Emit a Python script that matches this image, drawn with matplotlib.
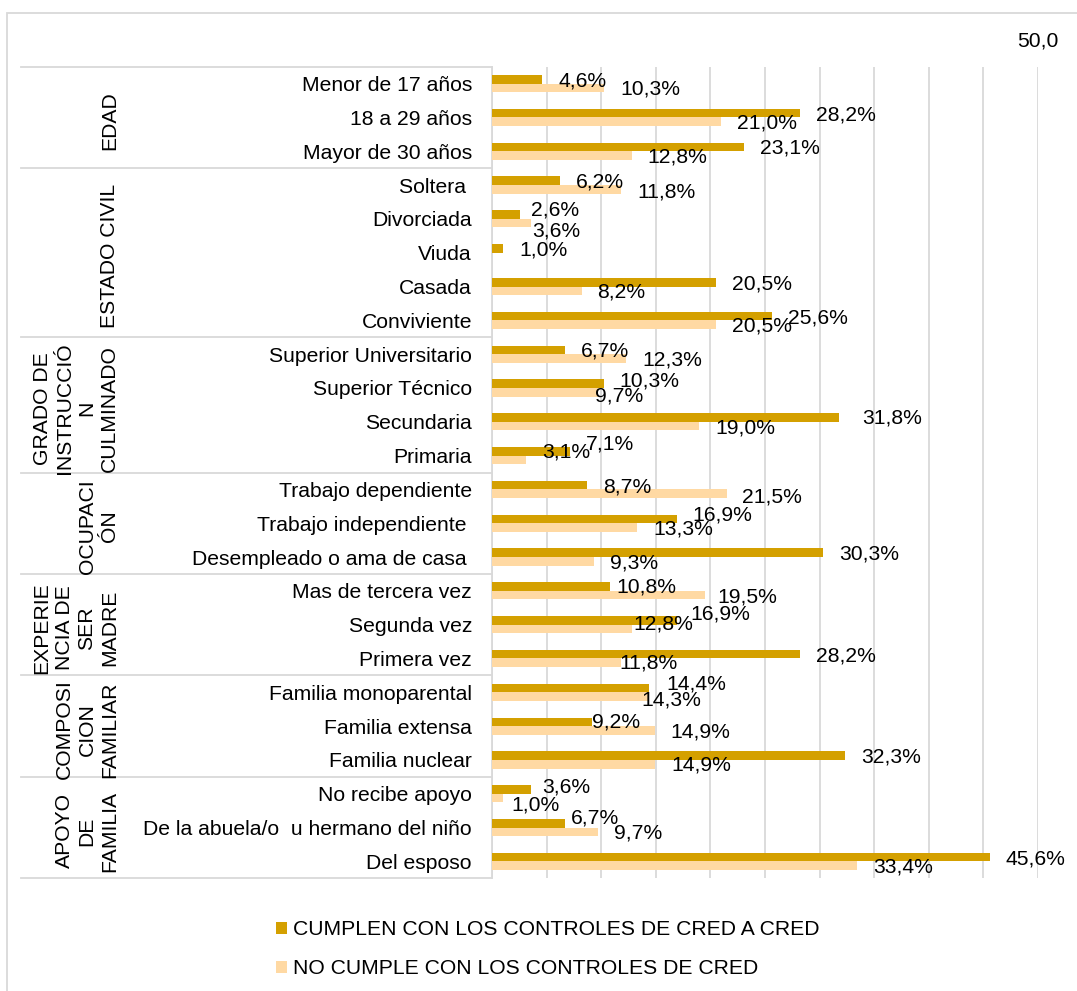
import matplotlib
matplotlib.use('Agg')
import matplotlib.pyplot as plt
import matplotlib.transforms as mtransforms
from matplotlib.patches import Rectangle, Patch
import numpy as np

plt.rcParams['font.family'] = ['Liberation Sans', 'DejaVu Sans']

# ---------------- data ----------------
groups = ["EDAD", "ESTADO CIVIL", "GRADO DE\nINSTRUCCIÓ\nN\nCULMINADO", "OCUPACI\nÓN",
          "EXPERIE\nNCIA DE\nSER\nMADRE", "COMPOSI\nCION\nFAMILIAR", "APOYO\nDE\nFAMILIA"]
group_sizes = [3, 5, 4, 3, 3, 3, 3]

categories = [
    "Menor de 17 años", "18 a 29 años", "Mayor de 30 años",
    "Soltera ", "Divorciada", "Viuda", "Casada", "Conviviente",
    "Superior Universitario", "Superior Técnico", "Secundaria", "Primaria",
    "Trabajo dependiente", "Trabajo independiente ", "Desempleado o ama de casa ",
    "Mas de tercera vez", "Segunda vez", "Primera vez",
    "Familia monoparental", "Familia extensa", "Familia nuclear",
    "No recibe apoyo", "De la abuela/o  u hermano del niño", "Del esposo",
]

cumplen = [4.6, 28.2, 23.1,
           6.2, 2.6, 1.0, 20.5, 25.6,
           6.7, 10.3, 31.8, 7.1,
           8.7, 16.9, 30.3,
           10.8, 16.9, 28.2,
           14.4, 9.2, 32.3,
           3.6, 6.7, 45.6]

no_cumple = [10.3, 21.0, 12.8,
             11.8, 3.6, None, 8.2, 20.5,
             12.3, 9.7, 19.0, 3.1,
             21.5, 13.3, 9.3,
             19.5, 12.8, 11.8,
             14.3, 14.9, 14.9,
             1.0, 9.7, 33.4]

series_names = ["CUMPLEN CON LOS CONTROLES DE CRED A CRED",
                "NO CUMPLE CON LOS CONTROLES DE CRED"]
axis_max_label = "50,0"

# ---------------- styles / layout ----------------
W, H, DPI = 1077, 991, 100
C_DARK = "#D4A000"
C_LIGHT = "#FFD9A3"
GRID = "#D9D9D9"
FS = 15.2

AX_L, AX_R, AX_T, AX_B = 492, 1038, 66.7, 878.3  # pixels

# label nudges (pixels, x right, y down) relative to bar end / bar centre
DEFAULT_NUDGE = (16, 1.5)
dark_nudge = {4: (11, -5), 9: (14.7, -2.3), 10: (23, 1), 11: (16.4, -6.8),
              13: (16, -3.5), 15: (6.3, 0.7), 16: (14.3, -6.6), 18: (17, -4.3),
              19: (0, 0), 21: (11, -2), 22: (5.3, -5.2)}
light_nudge = {3: (16.7, 3), 4: (0.7, 8), 9: (-3.3, 4), 11: (16, -8), 12: (15.6, 3),
               15: (12.3, 2), 16: (1.3, -5.3), 17: (-1.7, 0), 18: (-6.3, 3),
               20: (16.7, 0.3), 21: (8.7, 6.7)}

fig = plt.figure(figsize=(W / DPI, H / DPI), dpi=DPI)
ax = fig.add_axes([AX_L / W, 1 - AX_B / H, (AX_R - AX_L) / W, (AX_B - AX_T) / H])

n = len(categories)
y = np.arange(n)
bh = 0.255
dark_vals = np.array(cumplen, dtype=float)
light_vals = np.array([np.nan if v is None else v for v in no_cumple], dtype=float)

ax.barh(y - bh / 2, dark_vals, height=bh, color=C_DARK, label=series_names[0], zorder=3)
ax.barh(y + bh / 2, np.nan_to_num(light_vals), height=bh, color=C_LIGHT,
        label=series_names[1], zorder=3)

ax.set_xlim(0, 50)
ax.set_ylim(n - 0.5, -0.5)
ax.set_xticks(np.arange(0, 51, 5))
ax.set_xticklabels([])
ax.tick_params(axis='x', length=0)
ax.grid(axis='x', color=GRID, lw=1.3, zorder=0)
ax.set_yticks(y)
ax.set_yticklabels(categories, fontsize=FS)
ax.tick_params(axis='y', length=0, pad=20 * 0.72)
for s in ['top', 'right', 'bottom']:
    ax.spines[s].set_visible(False)
ax.spines['left'].set_color(GRID)
ax.spines['left'].set_linewidth(1.3)


def fmt(v):
    return f"{v:.1f}".replace('.', ',') + "%"


for i in range(n):
    dx, dy = dark_nudge.get(i, DEFAULT_NUDGE)
    ax.annotate(fmt(dark_vals[i]), xy=(dark_vals[i], y[i] - bh / 2),
                xytext=(dx, -dy), textcoords='offset pixels',
                ha='left', va='center', fontsize=FS, zorder=4)
    if not np.isnan(light_vals[i]):
        dx, dy = light_nudge.get(i, DEFAULT_NUDGE)
        ax.annotate(fmt(light_vals[i]), xy=(light_vals[i], y[i] + bh / 2),
                    xytext=(dx, -dy), textcoords='offset pixels',
                    ha='left', va='center', fontsize=FS, zorder=4)

# top value label of the axis
ax.annotate(axis_max_label, xy=(50, 1), xycoords=('data', 'axes fraction'),
            xytext=(0, 26), textcoords='offset pixels', ha='center', va='center',
            fontsize=FS)

# group separators and labels
tr = mtransforms.blended_transform_factory(fig.transFigure, ax.transData)
bounds = np.concatenate([[0], np.cumsum(group_sizes)])
for b in bounds:
    ax.plot([20.7 / W, AX_L / W], [b - 0.5, b - 0.5], transform=tr, color=GRID,
            lw=1.3, clip_on=False, zorder=2)
for g, s0, s1 in zip(groups, bounds[:-1], bounds[1:]):
    yc = (s0 + s1 - 1) / 2 + 0.1
    ax.text(119 / W, yc, g, transform=tr, rotation=90, ha='right', va='center',
            multialignment='center', fontsize=FS, linespacing=1.23)

# outer border
fig.patches.append(Rectangle((7 / W, -0.05), 1.2, 1 - 12.7 / H + 0.05,
                             transform=fig.transFigure, fill=False,
                             edgecolor=GRID, lw=1.3))

# legend
handles = [Patch(facecolor=C_DARK, edgecolor='none'), Patch(facecolor=C_LIGHT, edgecolor='none')]
fig.legend(handles, series_names, loc='upper left', bbox_to_anchor=(268 / W, 1 - 912 / H),
           frameon=False, fontsize=FS, handlelength=0.5, handleheight=0.5,
           handletextpad=0.3, labelspacing=0.95, borderaxespad=0)

fig.savefig("out.png", dpi=DPI)
